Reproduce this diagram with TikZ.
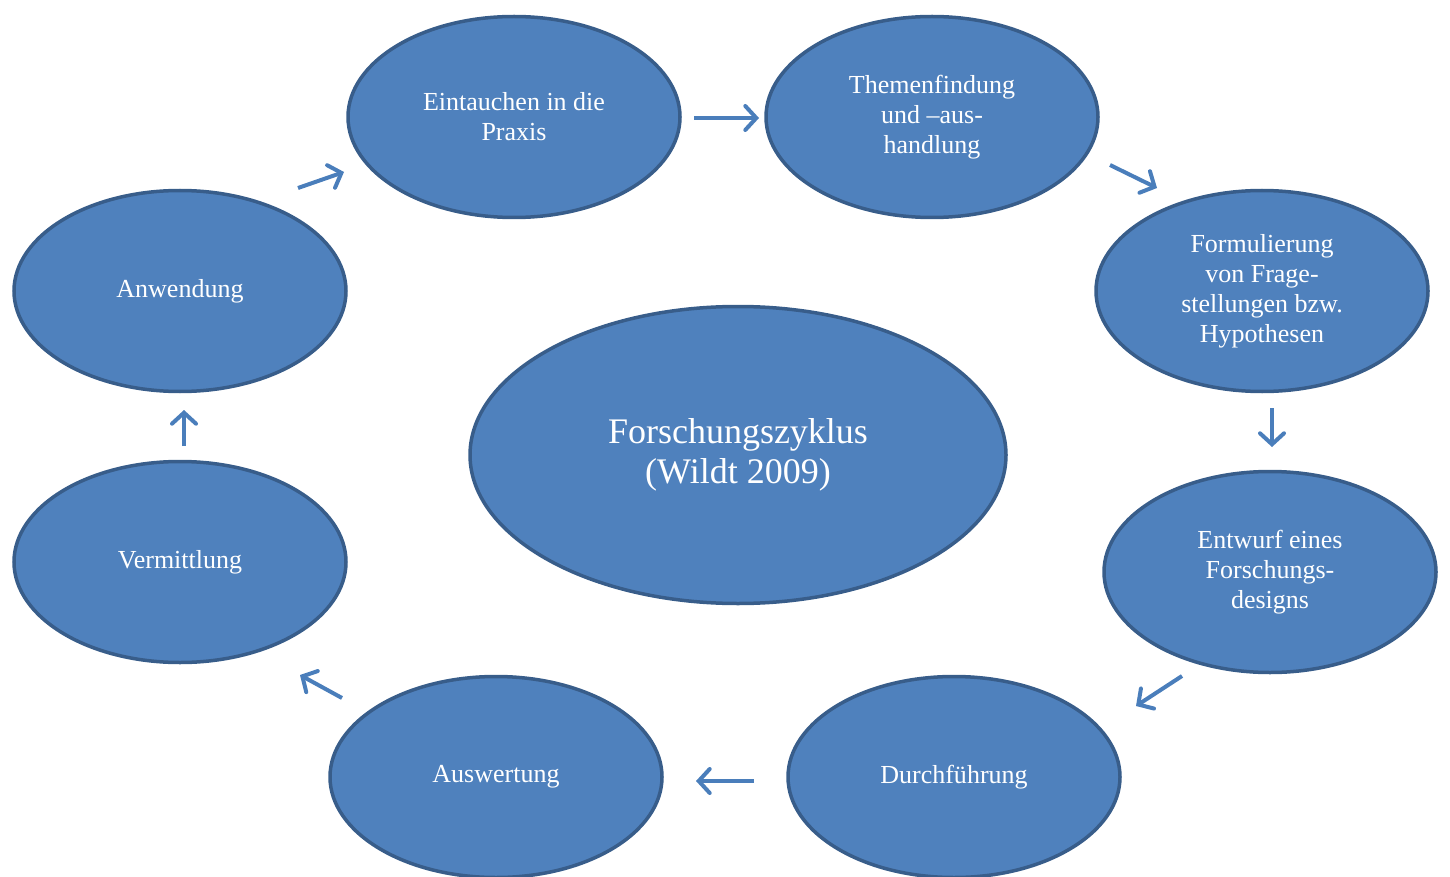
\documentclass[tikz,border=0pt]{standalone}
\usepackage{fontspec}
\setmainfont{Liberation Serif}
\usetikzlibrary{shapes.geometric,arrows.meta}
\definecolor{cyclefill}{HTML}{4F81BD}
\definecolor{cycleline}{HTML}{385D8A}
\definecolor{cyclearrow}{HTML}{4A7EBB}
\tikzset{
	phase/.style={ellipse,draw=cycleline,fill=cyclefill,line width=3.5pt,minimum width=332pt,minimum height=201pt,inner sep=0pt,text=white,align=center,font=\fontsize{26}{30}\selectfont},
	hub/.style={phase,minimum width=536pt,minimum height=297pt,font=\fontsize{36}{40}\selectfont},
	flow/.style={draw=cyclearrow,line width=4pt,-{Straight Barb[length=11pt,width=24pt,line cap=round]}}
}
\begin{document}
\begin{tikzpicture}[x=1pt,y=-1pt]
	\useasboundingbox (0,0) rectangle (1450,877);
	\clip (0,0) rectangle (1450,877);
	\node [hub] (zyklus) at (738,455) {Forschungszyklus\\(Wildt 2009)};

	\node [phase] (praxis) at (514,117) {Eintauchen in die\\Praxis};
	\node [phase] (thema) at (932,117) {Themenfindung\\und –aus-\\handlung};
	\node [phase] (frage) at (1262,291) {Formulierung\\von Frage-\\stellungen bzw.\\Hypothesen};
	\node [phase] (design) at (1270,572) {Entwurf eines\\Forschungs-\\designs};
	\node [phase] (durch) at (954,777) {Durchführung};
	\node [phase] (ausw) at (496,777) {Auswertung};
	\node [phase] (verm) at (180,562) {Vermittlung};
	\node [phase] (anw) at (180,291) {Anwendung};

	% arrow ends between the phases
	\coordinate (anw-s) at (298,188);   \coordinate (praxis-e) at (344,172);
	\coordinate (praxis-s) at (694,118); \coordinate (thema-e) at (759,118);
	\coordinate (thema-s) at (1110,165); \coordinate (frage-e) at (1157,188);
	\coordinate (frage-s) at (1272,408); \coordinate (design-e) at (1272,447);
	\coordinate (design-s) at (1182,676); \coordinate (durch-e) at (1136,706);
	\coordinate (durch-s) at (754,781);  \coordinate (ausw-e) at (696,781);
	\coordinate (ausw-s) at (342,698);   \coordinate (verm-e) at (300,675);
	\coordinate (verm-s) at (184,446);   \coordinate (anw-e) at (184,410);

	\draw [flow] (anw-s) -- (praxis-e);
	\draw [flow] (praxis-s) -- (thema-e);
	\draw [flow] (thema-s) -- (frage-e);
	\draw [flow] (frage-s) -- (design-e);
	\draw [flow] (design-s) -- (durch-e);
	\draw [flow] (durch-s) -- (ausw-e);
	\draw [flow] (ausw-s) -- (verm-e);
	\draw [flow] (verm-s) -- (anw-e);
\end{tikzpicture}
\end{document}
